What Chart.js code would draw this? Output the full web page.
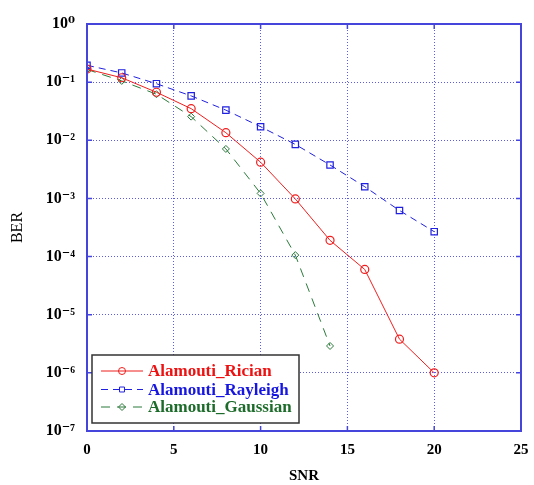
<!DOCTYPE html>
<html>
<head>
<meta charset="utf-8">
<script src="https://cdn.jsdelivr.net/npm/chart.js@4.4.1/dist/chart.umd.min.js"></script>
<style>
  html, body { margin: 0; padding: 0; background: #fff; }
</style>
</head>
<body>
<canvas id="berChart" width="534" height="485"></canvas>
<script>
// values
const snr = [0, 2, 4, 6, 8, 10, 12, 14, 16, 18, 20];
const ricianBer = [0.168, 0.119, 0.067, 0.035, 0.0135, 0.0042, 9.8e-4, 1.9e-4, 6.0e-5, 3.8e-6, 1.0e-6];
const rayleighBer = [0.195, 0.144, 0.094, 0.058, 0.033, 0.0171, 0.0085, 0.00376, 0.00159, 6.2e-4, 2.68e-4];
const gaussianSnr = [0, 2, 4, 6, 8, 10, 12, 14];
const gaussianBer = [0.165, 0.105, 0.062, 0.0255, 0.0071, 0.00122, 1.06e-4, 2.9e-6];
const xTicks = [0, 5, 10, 15, 20, 25];
const yTicks = [1, 1e-1, 1e-2, 1e-3, 1e-4, 1e-5, 1e-6, 1e-7];
const seriesNames = ['Alamouti_Rician', 'Alamouti_Rayleigh', 'Alamouti_Gaussian'];

const sup = { '0': '\u2070', '1': '\u00b9', '2': '\u00b2', '3': '\u00b3', '4': '\u2074', '5': '\u2075', '6': '\u2076', '7': '\u2077', '8': '\u2078', '9': '\u2079', '-': '\u207b' };
function powLabel(v) {
  const e = String(Math.round(Math.log10(v)));
  return '10' + e.split('').map(c => sup[c]).join('');
}

const toPts = (xs, ys) => xs.map((x, i) => ({ x: x, y: ys[i] }));

const gridBlue = '#5b5be8';
const frameBlue = '#4545dc';
const serif = '"Liberation Serif", "DejaVu Serif", serif';

// box around the plot plus inward tick marks on every side
const framePlugin = {
  id: 'frame',
  afterDatasetsDraw(chart) {
    const { ctx, chartArea: a, scales } = chart;
    ctx.save();
    ctx.strokeStyle = frameBlue;
    ctx.lineWidth = 1.5;
    ctx.setLineDash([]);
    ctx.beginPath();
    xTicks.forEach(t => {
      const px = scales.x.getPixelForValue(t);
      ctx.moveTo(px, a.bottom); ctx.lineTo(px, a.bottom - 5);
      ctx.moveTo(px, a.top); ctx.lineTo(px, a.top + 5);
    });
    yTicks.forEach(t => {
      const py = scales.y.getPixelForValue(t);
      ctx.moveTo(a.left, py); ctx.lineTo(a.left + 5, py);
      ctx.moveTo(a.right, py); ctx.lineTo(a.right - 5, py);
    });
    ctx.stroke();
    ctx.lineWidth = 2;
    ctx.strokeRect(a.left, a.top, a.right - a.left, a.bottom - a.top);
    ctx.restore();
  }
};

// legend box in the lower left corner of the plot
const boxLegend = {
  id: 'boxLegend',
  afterDraw(chart) {
    const { ctx, chartArea: a } = chart;
    const x0 = a.left + 5, y0 = a.bottom - 76, w = 207, h = 68;
    ctx.save();
    ctx.fillStyle = '#fff';
    ctx.fillRect(x0, y0, w, h);
    ctx.strokeStyle = '#333';
    ctx.lineWidth = 1.5;
    ctx.strokeRect(x0, y0, w, h);
    const rows = [y0 + 16, y0 + 34.5, y0 + 52];
    const textColors = ['#ee1111', '#1616e0', '#1d6b2a'];
    chart.data.datasets.forEach((ds, i) => {
      const y = rows[i];
      ctx.strokeStyle = ds.borderColor;
      ctx.lineWidth = 1;
      ctx.setLineDash(ds.borderDash || []);
      ctx.beginPath();
      ctx.moveTo(x0 + 9, y);
      ctx.lineTo(x0 + 51, y);
      ctx.stroke();
      ctx.setLineDash([]);
      ctx.strokeStyle = ds.pointBorderColor;
      ctx.fillStyle = 'rgba(0,0,0,0)';
      Chart.helpers.drawPoint(ctx, { pointStyle: ds.pointStyle, radius: 3.5, rotation: 0, borderWidth: 1 }, x0 + 30, y);
      ctx.fillStyle = textColors[i];
      ctx.font = 'bold 17px ' + serif;
      ctx.textBaseline = 'middle';
      ctx.fillText(ds.label, x0 + 56, y + 1);
    });
    ctx.restore();
  }
};

new Chart(document.getElementById('berChart'), {
  type: 'scatter',
  data: {
    datasets: [
      {
        label: seriesNames[0],
        data: toPts(snr, ricianBer),
        showLine: true,
        borderColor: '#f01e1e',
        borderWidth: 1,
        pointStyle: 'circle',
        pointRadius: 4,
        pointBorderColor: '#f01e1e',
        pointBackgroundColor: 'rgba(0,0,0,0)',
        pointBorderWidth: 1.2
      },
      {
        label: seriesNames[1],
        data: toPts(snr, rayleighBer),
        showLine: true,
        borderColor: '#2020e0',
        borderWidth: 1,
        borderDash: [7, 5],
        pointStyle: 'rect',
        pointRadius: 4.5,
        pointBorderColor: '#2020e0',
        pointBackgroundColor: 'rgba(0,0,0,0)',
        pointBorderWidth: 1.2
      },
      {
        label: seriesNames[2],
        data: toPts(gaussianSnr, gaussianBer),
        showLine: true,
        borderColor: '#2a7a3a',
        borderWidth: 1,
        borderDash: [9, 7],
        pointStyle: 'rectRot',
        pointRadius: 3.5,
        pointBorderColor: '#2a7a3a',
        pointBackgroundColor: 'rgba(0,0,0,0)',
        pointBorderWidth: 1
      }
    ]
  },
  options: {
    responsive: false,
    animation: false,
    layout: { padding: { left: 8, top: 24, right: 13, bottom: 0 } },
    plugins: {
      legend: { display: false },
      tooltip: { enabled: false }
    },
    scales: {
      x: {
        type: 'linear',
        min: 0,
        max: 25,
        afterBuildTicks: s => { s.ticks = xTicks.map(v => ({ value: v })); },
        afterFit: s => { s.height = 54; s.paddingLeft = 0; s.paddingRight = 0; },
        grid: { color: gridBlue, lineWidth: 1, drawTicks: false },
        border: { display: false, dash: [1, 2] },
        ticks: { color: '#000', padding: 10, font: { family: serif, size: 15, weight: 'bold' } },
        title: { display: true, text: 'SNR', color: '#000', padding: 0, font: { family: serif, size: 15, weight: 'bold' } }
      },
      y: {
        type: 'logarithmic',
        min: 1e-7,
        max: 1,
        afterBuildTicks: s => { s.ticks = yTicks.map(v => ({ value: v })); },
        afterFit: s => { s.width = 79; s.paddingTop = 0; s.paddingBottom = 0; },
        grid: { color: gridBlue, lineWidth: 1, drawTicks: false },
        border: { display: false, dash: [1, 2] },
        ticks: {
          color: '#000',
          padding: 12,
          font: { family: serif, size: 16, weight: 'bold' },
          callback: v => powLabel(v)
        },
        title: { display: true, text: 'BER', color: '#000', padding: 0, font: { family: serif, size: 16 } }
      }
    }
  },
  plugins: [framePlugin, boxLegend]
});
</script>
</body>
</html>
